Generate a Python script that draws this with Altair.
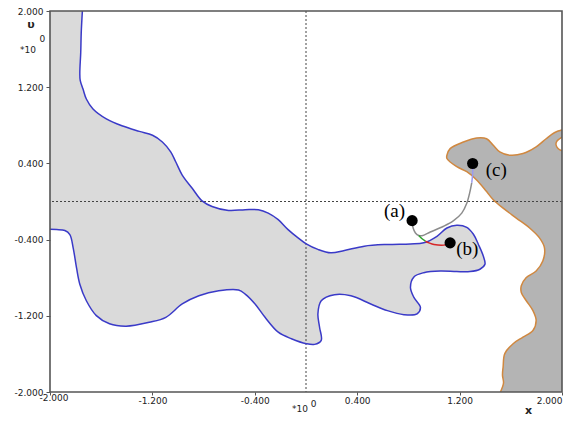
import altair as alt
import pandas as pd

# ---------------- axes ----------------
X_DOMAIN = [-2.0, 2.0]
Y_DOMAIN = [-2.0, 2.0]
TICKS = [-2.0, -1.2, -0.4, 0.4, 1.2, 2.0]
ZERO_LINES = [0.0]
OUT = 0.1  # helper margin outside the plot for closing filled shapes (clipped away)

# ---------------- light region boundary (blue), top edge -> left edge ----------------
light_x = [-1.747, -1.756, -1.760, -1.767, -1.764, -1.742, -1.716, -1.664, -1.560, -1.432,
           -1.302, -1.199, -1.122, -1.057, -1.018, -0.967, -0.889, -0.812, -0.734, -0.605,
           -0.475, -0.372, -0.295, -0.217, -0.140, -0.062, 0.002, 0.093, 0.194, 0.300,
           0.455, 0.636, 0.814, 0.920, 1.023, 1.101, 1.178, 1.256, 1.308, 1.347,
           1.385, 1.398, 1.359, 1.281, 1.178, 1.049, 0.920, 0.843, 0.816, 0.843,
           0.894, 0.868, 0.765, 0.636, 0.506, 0.351, 0.222, 0.119, 0.093, 0.106,
           0.119, 0.067, 0.002, -0.114, -0.217, -0.320, -0.398, -0.475, -0.527, -0.682,
           -0.837, -0.967, -1.095, -1.225, -1.405, -1.535, -1.638, -1.716, -1.767, -1.793,
           -1.819, -1.845, -1.884, -1.948, -2.000]
light_y = [2.000, 1.771, 1.562, 1.354, 1.271, 1.180, 1.076, 0.972, 0.868, 0.792,
           0.736, 0.695, 0.625, 0.521, 0.417, 0.278, 0.139, 0.007, -0.052, -0.094,
           -0.086, -0.086, -0.122, -0.191, -0.295, -0.382, -0.445, -0.503, -0.539, -0.514,
           -0.469, -0.451, -0.445, -0.434, -0.365, -0.278, -0.250, -0.271, -0.344, -0.451,
           -0.573, -0.659, -0.711, -0.736, -0.736, -0.729, -0.747, -0.792, -0.903, -1.007,
           -1.111, -1.180, -1.188, -1.146, -1.076, -0.990, -0.979, -1.042, -1.180, -1.320,
           -1.458, -1.500, -1.493, -1.441, -1.372, -1.216, -1.076, -0.972, -0.930, -0.938,
           -0.990, -1.076, -1.216, -1.268, -1.309, -1.284, -1.198, -1.042, -0.868, -0.695,
           -0.486, -0.347, -0.305, -0.295, -0.292]

# ---------------- dark region boundary (orange), bottom edge -> right edge ----------------
dark_x = [1.519, 1.543, 1.535, 1.540, 1.553, 1.618, 1.695, 1.773, 1.798, 1.773,
          1.721, 1.682, 1.682, 1.721, 1.798, 1.850, 1.863, 1.824, 1.747, 1.643,
          1.540, 1.463, 1.411, 1.333, 1.256, 1.178, 1.101, 1.101, 1.126, 1.230,
          1.333, 1.411, 1.463, 1.514, 1.591, 1.695, 1.798, 1.876, 1.940, 2.000]
dark_y = [-2.000, -1.906, -1.823, -1.736, -1.597, -1.493, -1.424, -1.354, -1.250, -1.146,
          -1.042, -0.955, -0.885, -0.799, -0.729, -0.625, -0.486, -0.382, -0.278, -0.174,
          -0.070, 0.018, 0.104, 0.226, 0.3125, 0.365, 0.451, 0.486, 0.555, 0.625,
          0.667, 0.659, 0.591, 0.521, 0.486, 0.503, 0.573, 0.659, 0.722, 0.750]
notch_x = [2.000, 1.961, 1.953, 1.969, 2.000]
notch_y = [0.677, 0.635, 0.599, 0.557, 0.531]

# ---------------- trajectories ----------------
gray_x = [0.829, 0.837, 0.855, 0.881, 0.907, 0.971, 1.075, 1.153, 1.217, 1.256, 1.281, 1.295]
gray_y = [-0.201, -0.278, -0.330, -0.357, -0.359, -0.320, -0.260, -0.201, -0.122, -0.018, 0.104, 0.198]
blue_x = [1.295, 1.302, 1.302]
blue_y = [0.198, 0.292, 0.399]
green_x = [0.881, 0.907, 0.933]
green_y = [-0.357, -0.391, -0.417]
red_x = [0.933, 0.961, 1.000, 1.078, 1.124]
red_y = [-0.417, -0.434, -0.451, -0.458, -0.438]

# ---------------- marked points ----------------
point_labels = ["(a)", "(b)", "(c)"]
point_x = [0.829, 1.126, 1.302]
point_y = [-0.201, -0.434, 0.399]

# ---------------- build tables ----------------
def poly_df(xs, ys):
    return pd.DataFrame({"x": xs, "y": ys, "i": list(range(len(xs)))})

x_lo, x_hi = X_DOMAIN[0] - OUT, X_DOMAIN[1] + OUT
y_lo, y_hi = Y_DOMAIN[0] - OUT, Y_DOMAIN[1] + OUT
light_poly = poly_df(light_x + [x_lo, x_lo, light_x[0]],
                     light_y + [light_y[-1], y_hi, y_hi])
dark_poly = poly_df(dark_x + notch_x + [x_hi, x_hi, dark_x[0]],
                    dark_y + notch_y + [notch_y[-1], y_lo, y_lo])

segs = [("light", light_x, light_y), ("dark", dark_x, dark_y), ("notch", notch_x, notch_y),
        ("gray", gray_x, gray_y), ("blue", blue_x, blue_y), ("green", green_x, green_y),
        ("red", red_x, red_y)]
rows = []
for name, xs, ys in segs:
    for k, (a, b) in enumerate(zip(xs, ys)):
        rows.append({"seg": name, "i": k, "x": a, "y": b})
lines_df = pd.DataFrame(rows)
SEG_DOMAIN = [s[0] for s in segs]
SEG_COLORS = ["#3a3ac8", "#d08840", "#d08840", "#8c8c8c", "#9a9af0", "#2ca02c", "#d62728"]

points_df = pd.DataFrame({"label": point_labels, "x": point_x, "y": point_y})
frame_df = pd.DataFrame({"x": [X_DOMAIN[0]], "x2": [X_DOMAIN[1]], "y": [Y_DOMAIN[0]], "y2": [Y_DOMAIN[1]]})
zero_df = pd.DataFrame({"v": ZERO_LINES})

# ---------------- scales / axes ----------------
LABEL_EXPR = "(datum.value < 0 ? '-' : '') + format(abs(datum.value), '.3f')"
XS = alt.Scale(domain=X_DOMAIN, nice=False, zero=False)
YS = alt.Scale(domain=Y_DOMAIN, nice=False, zero=False)
common_axis = dict(values=TICKS, labelExpr=LABEL_EXPR, domain=False, grid=False,
                   labelFont="DejaVu Sans", labelFontSize=9, labelColor="#222222",
                   tickColor="#555555", tickWidth=1, titleFont="DejaVu Sans",
                   titleFontSize=11, titleFontWeight="bold", titleColor="#222222",
                   titleAlign="center", titleBaseline="middle", titleAngle=0, labelOverlap=False)
X_AXIS = alt.Axis(title="x", titleX=478, titleY=18, tickSize=3,
                  labelPadding={"condition": {"test": "datum.value < -1.9", "value": -2}, "value": 1},
                  labelOffset={"condition": {"test": "datum.value < -1.9", "value": -11}, "value": 0},
                  **common_axis)
Y_AXIS = alt.Axis(title="υ", titleX=-19.5, titleY=13.7, tickSize=4, labelPadding=3, **common_axis)


def X(field="x"):
    return alt.X(f"{field}:Q", scale=XS, axis=X_AXIS)


def Y(field="y"):
    return alt.Y(f"{field}:Q", scale=YS, axis=Y_AXIS)


SMOOTH = "catmull-rom"

light_fill = alt.Chart(light_poly).mark_line(
    fill="#dadada", strokeOpacity=0, interpolate=SMOOTH, clip=True
).encode(x=X(), y=Y(), order="i:Q")
dark_fill = alt.Chart(dark_poly).mark_line(
    fill="#b4b4b4", strokeOpacity=0, interpolate=SMOOTH, clip=True
).encode(x=X(), y=Y(), order="i:Q")

vrule = alt.Chart(zero_df).mark_rule(color="#444444", strokeDash=[2, 2], strokeWidth=1).encode(x=X("v"))
hrule = alt.Chart(zero_df).mark_rule(color="#444444", strokeDash=[2, 2], strokeWidth=1).encode(y=Y("v"))

lines = alt.Chart(lines_df).mark_line(strokeWidth=1.5, interpolate=SMOOTH, clip=True).encode(
    x=X(), y=Y(), order="i:Q", detail="seg:N",
    color=alt.Color("seg:N", scale=alt.Scale(domain=SEG_DOMAIN, range=SEG_COLORS), legend=None))

frame = alt.Chart(frame_df).mark_rect(fillOpacity=0, stroke="#555555", strokeWidth=1.6).encode(
    x=X(), x2="x2", y=Y(), y2="y2")

dots = alt.Chart(points_df).mark_circle(size=125, color="black", opacity=1).encode(x=X(), y=Y())

label_base = alt.Chart(points_df)
lab_a = label_base.transform_filter("datum.label == '(a)'").mark_text(
    font="Liberation Serif", fontSize=19, align="right", baseline="middle", dx=-7, dy=-10, color="black"
).encode(x=X(), y=Y(), text="label:N")
lab_b = label_base.transform_filter("datum.label == '(b)'").mark_text(
    font="Liberation Serif", fontSize=19, align="left", baseline="middle", dx=6, dy=6, color="black"
).encode(x=X(), y=Y(), text="label:N")
lab_c = label_base.transform_filter("datum.label == '(c)'").mark_text(
    font="Liberation Serif", fontSize=19, align="left", baseline="middle", dx=13, dy=7, color="black"
).encode(x=X(), y=Y(), text="label:N")


def note(txt, px, py, size=9):
    return alt.Chart(pd.DataFrame({"t": [txt]})).mark_text(
        font="DejaVu Sans", fontSize=size, color="#222222", align="center", baseline="middle"
    ).encode(x=alt.value(px), y=alt.value(py), text="t:N")


notes = [note("*10", -22, 39), note("0", -7.7, 28.3),
         note("*10", 250, 398), note("0", 263.5, 393)]

chart = alt.layer(light_fill, dark_fill, vrule, hrule, lines, frame, dots,
                  lab_a, lab_b, lab_c, *notes).properties(
    width=512, height=381,
    autosize=alt.AutoSizeParams(type="none"),
    padding={"left": 42, "top": 3, "right": 1, "bottom": 24},
    background="white",
).configure_view(strokeWidth=0)

chart.save("out.html", embed_options={"renderer": "svg", "actions": False})
